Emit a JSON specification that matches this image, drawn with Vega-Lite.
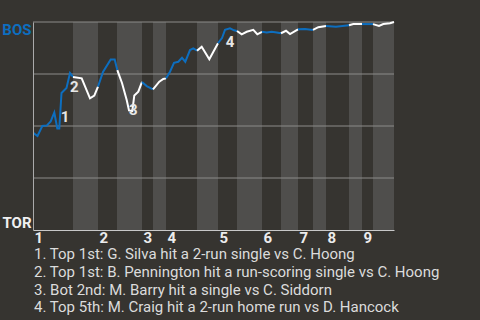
{
  "$schema": "https://vega.github.io/schema/vega-lite/v6.json",
  "width": 361,
  "height": 208,
  "autosize": {"type": "none"},
  "padding": {"left": 33, "top": 22, "right": 86, "bottom": 90},
  "background": "#363430",
  "config": {
    "view": {"stroke": null},
    "font": "Roboto"
  },
  "title": {
    "text": [
      "1. Top 1st: G. Silva hit a 2-run single vs C. Hoong",
      "2. Top 1st: B. Pennington hit a run-scoring single vs C. Hoong",
      "3. Bot 2nd: M. Barry hit a single vs C. Siddorn",
      "4. Top 5th: M. Craig hit a 2-run home run vs D. Hancock"
    ],
    "orient": "bottom",
    "anchor": "start",
    "frame": "group",
    "font": "Roboto",
    "fontSize": 15,
    "fontWeight": "normal",
    "color": "#dcdcdc",
    "lineHeight": 17.8,
    "offset": 2,
    "dx": 1
  },
  "datasets": {
    "bands": [
      {"s": 0, "e": 40, "half": "top"},
      {"s": 40, "e": 65, "half": "bot"},
      {"s": 65, "e": 84, "half": "top"},
      {"s": 84, "e": 109, "half": "bot"},
      {"s": 109, "e": 120, "half": "top"},
      {"s": 120, "e": 133, "half": "bot"},
      {"s": 133, "e": 164, "half": "top"},
      {"s": 164, "e": 185, "half": "bot"},
      {"s": 185, "e": 204, "half": "top"},
      {"s": 204, "e": 229, "half": "bot"},
      {"s": 229, "e": 248, "half": "top"},
      {"s": 248, "e": 265, "half": "bot"},
      {"s": 265, "e": 280, "half": "top"},
      {"s": 280, "e": 293, "half": "bot"},
      {"s": 293, "e": 316, "half": "top"},
      {"s": 316, "e": 329, "half": "bot"},
      {"s": 329, "e": 340, "half": "top"},
      {"s": 340, "e": 361, "half": "bot"}
    ],
    "grid": [{"g": 0.25}, {"g": 0.5}, {"g": 0.75}, {"g": 1}],
    "wp": [
      {"seg": 1, "team": "BOS", "t": 0.5, "p": 0.466},
      {"seg": 1, "team": "BOS", "t": 4.5, "p": 0.452},
      {"seg": 1, "team": "BOS", "t": 9.3, "p": 0.5},
      {"seg": 1, "team": "BOS", "t": 13.7, "p": 0.502},
      {"seg": 1, "team": "BOS", "t": 17.7, "p": 0.522},
      {"seg": 1, "team": "BOS", "t": 21.3, "p": 0.565},
      {"seg": 1, "team": "BOS", "t": 24.3, "p": 0.488},
      {"seg": 1, "team": "BOS", "t": 26.3, "p": 0.488},
      {"seg": 1, "team": "BOS", "t": 28.5, "p": 0.659},
      {"seg": 1, "team": "BOS", "t": 33.5, "p": 0.683},
      {"seg": 1, "team": "BOS", "t": 37, "p": 0.755},
      {"seg": 1, "team": "BOS", "t": 40, "p": 0.736},
      {"seg": 2, "team": "TOR", "t": 40, "p": 0.736},
      {"seg": 2, "team": "TOR", "t": 48.7, "p": 0.729},
      {"seg": 2, "team": "TOR", "t": 57, "p": 0.633},
      {"seg": 2, "team": "TOR", "t": 61.3, "p": 0.646},
      {"seg": 2, "team": "TOR", "t": 65, "p": 0.689},
      {"seg": 3, "team": "BOS", "t": 65, "p": 0.689},
      {"seg": 3, "team": "BOS", "t": 70, "p": 0.76},
      {"seg": 3, "team": "BOS", "t": 77.7, "p": 0.82},
      {"seg": 3, "team": "BOS", "t": 81.7, "p": 0.82},
      {"seg": 3, "team": "BOS", "t": 84.3, "p": 0.769},
      {"seg": 4, "team": "TOR", "t": 84.3, "p": 0.769},
      {"seg": 4, "team": "TOR", "t": 89, "p": 0.707},
      {"seg": 4, "team": "TOR", "t": 93.7, "p": 0.625},
      {"seg": 4, "team": "TOR", "t": 96, "p": 0.575},
      {"seg": 4, "team": "TOR", "t": 99.3, "p": 0.572},
      {"seg": 4, "team": "TOR", "t": 101.3, "p": 0.647},
      {"seg": 4, "team": "TOR", "t": 105.3, "p": 0.665},
      {"seg": 4, "team": "TOR", "t": 109, "p": 0.712},
      {"seg": 5, "team": "BOS", "t": 109, "p": 0.712},
      {"seg": 5, "team": "BOS", "t": 113.7, "p": 0.692},
      {"seg": 5, "team": "BOS", "t": 120, "p": 0.676},
      {"seg": 6, "team": "TOR", "t": 120, "p": 0.676},
      {"seg": 6, "team": "TOR", "t": 126.3, "p": 0.713},
      {"seg": 6, "team": "TOR", "t": 130.3, "p": 0.726},
      {"seg": 6, "team": "TOR", "t": 133, "p": 0.729},
      {"seg": 7, "team": "BOS", "t": 133, "p": 0.729},
      {"seg": 7, "team": "BOS", "t": 137, "p": 0.761},
      {"seg": 7, "team": "BOS", "t": 141, "p": 0.804},
      {"seg": 7, "team": "BOS", "t": 145.3, "p": 0.809},
      {"seg": 7, "team": "BOS", "t": 149, "p": 0.828},
      {"seg": 7, "team": "BOS", "t": 152.3, "p": 0.809},
      {"seg": 7, "team": "BOS", "t": 157, "p": 0.865},
      {"seg": 7, "team": "BOS", "t": 160.3, "p": 0.873},
      {"seg": 7, "team": "BOS", "t": 164, "p": 0.862},
      {"seg": 8, "team": "TOR", "t": 164, "p": 0.862},
      {"seg": 8, "team": "TOR", "t": 168.7, "p": 0.881},
      {"seg": 8, "team": "TOR", "t": 176.3, "p": 0.821},
      {"seg": 8, "team": "TOR", "t": 185, "p": 0.898},
      {"seg": 9, "team": "BOS", "t": 185, "p": 0.898},
      {"seg": 9, "team": "BOS", "t": 189, "p": 0.923},
      {"seg": 9, "team": "BOS", "t": 192, "p": 0.962},
      {"seg": 9, "team": "BOS", "t": 197, "p": 0.97},
      {"seg": 9, "team": "BOS", "t": 201, "p": 0.96},
      {"seg": 9, "team": "BOS", "t": 204, "p": 0.957},
      {"seg": 10, "team": "TOR", "t": 204, "p": 0.957},
      {"seg": 10, "team": "TOR", "t": 208.7, "p": 0.941},
      {"seg": 10, "team": "TOR", "t": 213.7, "p": 0.953},
      {"seg": 10, "team": "TOR", "t": 220.3, "p": 0.962},
      {"seg": 10, "team": "TOR", "t": 224.3, "p": 0.941},
      {"seg": 10, "team": "TOR", "t": 229, "p": 0.953},
      {"seg": 11, "team": "BOS", "t": 229, "p": 0.953},
      {"seg": 11, "team": "BOS", "t": 233.7, "p": 0.95},
      {"seg": 11, "team": "BOS", "t": 238.7, "p": 0.953},
      {"seg": 11, "team": "BOS", "t": 243.7, "p": 0.95},
      {"seg": 11, "team": "BOS", "t": 248, "p": 0.946},
      {"seg": 12, "team": "TOR", "t": 248, "p": 0.946},
      {"seg": 12, "team": "TOR", "t": 253, "p": 0.958},
      {"seg": 12, "team": "TOR", "t": 257, "p": 0.942},
      {"seg": 12, "team": "TOR", "t": 265, "p": 0.965},
      {"seg": 13, "team": "BOS", "t": 265, "p": 0.965},
      {"seg": 13, "team": "BOS", "t": 272, "p": 0.966},
      {"seg": 13, "team": "BOS", "t": 280, "p": 0.962},
      {"seg": 14, "team": "TOR", "t": 280, "p": 0.962},
      {"seg": 14, "team": "TOR", "t": 285.3, "p": 0.975},
      {"seg": 14, "team": "TOR", "t": 293, "p": 0.981},
      {"seg": 15, "team": "BOS", "t": 293, "p": 0.981},
      {"seg": 15, "team": "BOS", "t": 303, "p": 0.977},
      {"seg": 15, "team": "BOS", "t": 316, "p": 0.984},
      {"seg": 16, "team": "TOR", "t": 316, "p": 0.984},
      {"seg": 16, "team": "TOR", "t": 320.3, "p": 0.99},
      {"seg": 16, "team": "TOR", "t": 329, "p": 0.99},
      {"seg": 17, "team": "BOS", "t": 329, "p": 0.99},
      {"seg": 17, "team": "BOS", "t": 340, "p": 0.99},
      {"seg": 18, "team": "TOR", "t": 340, "p": 0.99},
      {"seg": 18, "team": "TOR", "t": 346, "p": 0.981},
      {"seg": 18, "team": "TOR", "t": 350.3, "p": 0.99},
      {"seg": 18, "team": "TOR", "t": 357, "p": 0.994},
      {"seg": 18, "team": "TOR", "t": 361, "p": 1.0}
    ],
    "notes": [
      {"n": "1", "t": 32, "p": 0.545},
      {"n": "2", "t": 41.2, "p": 0.6875},
      {"n": "3", "t": 100.3, "p": 0.577},
      {"n": "4", "t": 197, "p": 0.905}
    ]
  },
  "layer": [
    {
      "data": {"name": "bands"},
      "mark": {"type": "rect"},
      "encoding": {
        "x": {
          "field": "s",
          "type": "quantitative",
          "scale": {"domain": [0, 361], "nice": false, "zero": false},
          "axis": {
            "values": [0, 65, 109, 133, 185, 229, 265, 293, 329],
            "labelExpr": "'' + (indexof([0, 65, 109, 133, 185, 229, 265, 293, 329], datum.value) + 1)",
            "title": null,
            "grid": false,
            "ticks": false,
            "domain": true,
            "domainColor": "#c8c8c8",
            "domainWidth": 1,
            "labelAlign": "left",
            "labelBaseline": "top",
            "labelPadding": 0,
            "labelOffset": 1,
            "labelFont": "Roboto",
            "labelFontSize": 15,
            "labelFontWeight": "bold",
            "labelColor": "#ececec",
            "labelFlush": false,
            "labelOverlap": false,
            "zindex": 1
          }
        },
        "x2": {"field": "e"},
        "fill": {
          "field": "half",
          "type": "nominal",
          "scale": {"domain": ["top", "bot"], "range": ["#363430", "#4f4e4c"]},
          "legend": null
        }
      }
    },
    {
      "data": {"name": "grid"},
      "mark": {"type": "rule", "color": "#8c8b89", "strokeWidth": 1},
      "encoding": {
        "y": {
          "field": "g",
          "type": "quantitative",
          "scale": {"domain": [0, 1], "nice": false, "zero": false},
          "axis": {
            "values": [0, 1],
            "labelExpr": "datum.value == 1 ? 'BOS' : 'TOR'",
            "title": null,
            "grid": false,
            "ticks": false,
            "domain": true,
            "domainColor": "#aaaaaa",
            "labelFont": "Roboto",
            "labelFontSize": 15,
            "labelFontWeight": "bold",
            "labelPadding": 2,
            "labelColor": {"condition": {"test": "datum.value == 1", "value": "#0d6ebf"}, "value": "#f0f0f0"},
            "labelBaseline": {"condition": {"test": "datum.value == 1", "value": "top"}, "value": "bottom"},
            "labelFlush": false,
            "zindex": 1
          }
        }
      }
    },
    {
      "data": {"name": "wp"},
      "mark": {"type": "line", "strokeWidth": 2, "interpolate": "linear"},
      "encoding": {
        "x": {"field": "t", "type": "quantitative"},
        "y": {"field": "p", "type": "quantitative"},
        "detail": {"field": "seg", "type": "nominal"},
        "color": {
          "field": "team",
          "type": "nominal",
          "scale": {"domain": ["BOS", "TOR"], "range": ["#0d6ebf", "#ffffff"]},
          "legend": null
        }
      }
    },
    {
      "data": {"name": "notes"},
      "mark": {"type": "text", "font": "Roboto", "fontSize": 15, "fontWeight": "bold", "color": "#e6e6e6", "align": "center", "baseline": "middle"},
      "encoding": {
        "x": {"field": "t", "type": "quantitative"},
        "y": {"field": "p", "type": "quantitative"},
        "text": {"field": "n"}
      }
    }
  ]
}
